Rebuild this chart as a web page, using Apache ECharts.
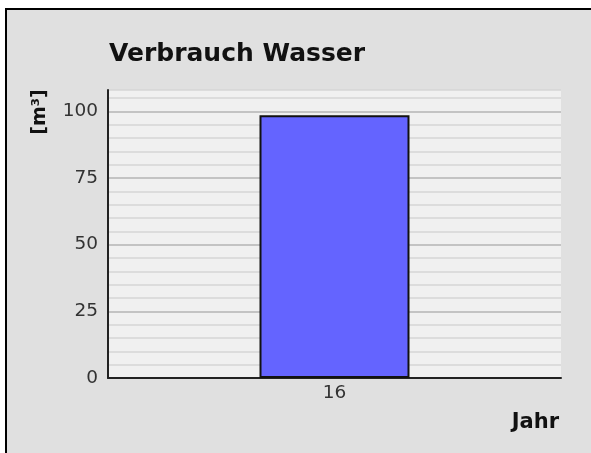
<!DOCTYPE html>
<html>
<head>
<meta charset="utf-8">
<script src="https://cdn.jsdelivr.net/npm/echarts@6/dist/echarts.min.js"></script>
<style>
    html, body { margin: 0; padding: 0; background: #fff; overflow: hidden; }
    #chart { width: 591px; height: 453px; }
</style>
</head>
<body>
<div id="chart"></div>
<script>
    // Daten
    const categories = ['16'];
    const verbrauch = [98.5];
    const yTicks = [0, 25, 50, 75, 100];

    const chart = echarts.init(document.getElementById('chart'));
    const font = '"DejaVu Sans", sans-serif';

    const option = {
        backgroundColor: '#fff',
        title: {
            text: 'Verbrauch Wasser',
            left: 104,
            top: 37,
            textStyle: { fontFamily: font, fontSize: 25, fontWeight: 'bold', color: '#111' }
        },
        grid: {
            left: 108, right: 30, top: 90, bottom: 75,
            show: true, backgroundColor: '#f0f0f0', borderWidth: 0
        },
        xAxis: {
            type: 'category',
            data: categories,
            axisLine: { lineStyle: { color: '#222', width: 2 } },
            axisTick: { show: false },
            axisLabel: { margin: 6, fontFamily: font, fontSize: 18.5, color: '#333' },
            splitLine: { show: false }
        },
        yAxis: {
            type: 'value',
            min: 0,
            max: 108,
            interval: 5,
            axisLine: { show: true, lineStyle: { color: '#222', width: 2 } },
            axisTick: { show: false },
            axisLabel: {
                margin: 10, fontFamily: font, fontSize: 18.5, color: '#333',
                formatter: v => yTicks.includes(v) ? String(v) : ''
            },
            splitLine: {
                lineStyle: {
                    width: 1.5,
                    color: ['#b4b4b4', '#d6d6d6', '#d6d6d6', '#d6d6d6', '#d6d6d6']
                }
            }
        },
        graphic: [
            {
                // Rahmen
                type: 'rect', z: -100, silent: true,
                shape: { x: 6, y: 9, width: 700, height: 600 },
                style: { fill: '#e0e0e0', stroke: '#000', lineWidth: 2 }
            },
            {
                type: 'text', x: 40, y: 112, rotation: Math.PI / 2,
                style: {
                    text: '[m³]', font: 'bold 19px ' + font, fill: '#111',
                    align: 'center', verticalAlign: 'middle'
                }
            },
            {
                type: 'text', x: 559, y: 423,
                style: {
                    text: 'Jahr', font: 'bold 21px ' + font, fill: '#111',
                    align: 'right', verticalAlign: 'middle'
                }
            }
        ],
        series: [{
            type: 'bar',
            data: verbrauch,
            barWidth: 150,
            itemStyle: { color: '#6464ff', borderColor: '#111', borderWidth: 2 }
        }]
    };
    chart.setOption(option);
</script>
</body>
</html>
